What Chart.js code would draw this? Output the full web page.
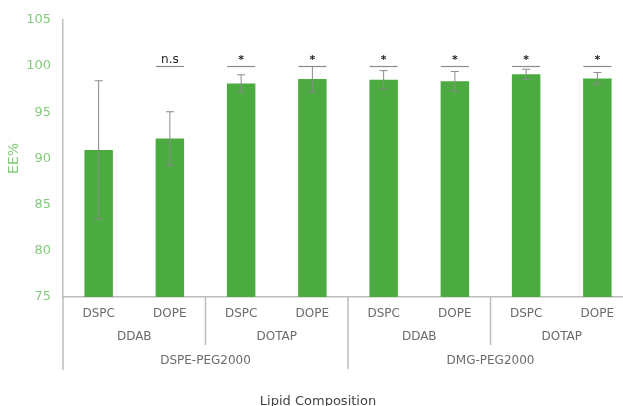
<!DOCTYPE html>
<html>
<head>
<meta charset="utf-8">
<script src="https://cdn.jsdelivr.net/npm/chart.js@4"></script>
<style>
	html, body { margin: 0; padding: 0; background: #fff; overflow: hidden; }
	.wrap { position: relative; width: 640px; height: 406px; }
</style>
</head>
<body>
<div class="wrap"><canvas id="chart"></canvas></div>
<script>
const lipids = ["DSPC", "DOPE", "DSPC", "DOPE", "DSPC", "DOPE", "DSPC", "DOPE"];
const cationic = ["DDAB", "DOTAP", "DDAB", "DOTAP"];
const pegs = ["DSPE-PEG2000", "DMG-PEG2000"];
const ee = [90.9, 92.15, 98.1, 98.6, 98.5, 98.35, 99.1, 98.65];
const sd = [7.5, 2.9, 0.95, 1.35, 1.0, 1.05, 0.55, 0.65];
const marks = ["", "n.s", "*", "*", "*", "*", "*", "*"];
const yTicks = [75, 80, 85, 90, 95, 100, 105];

const green = "#4bab40";
const tickGreen = "#86c97e";
const grey = "#bdbdbd";
const textGrey = "#6b6b6b";
const font = "'DejaVu Sans', sans-serif";

// error bars, significance marks and grouped category labels
const extras = {
	id: "extras",
	afterDatasetsDraw(chart) {
		const { ctx, chartArea: area, scales: { x, y } } = chart;
		const meta = chart.getDatasetMeta(0);
		ctx.save();

		// error bars
		ctx.strokeStyle = "#8a8a8a";
		ctx.lineWidth = 1;
		meta.data.forEach((bar, i) => {
			const top = y.getPixelForValue(ee[i] + sd[i]);
			const bot = y.getPixelForValue(ee[i] - sd[i]);
			ctx.beginPath();
			ctx.moveTo(bar.x, top);
			ctx.lineTo(bar.x, bot);
			ctx.moveTo(bar.x - 4, top);
			ctx.lineTo(bar.x + 4, top);
			ctx.moveTo(bar.x - 4, bot);
			ctx.lineTo(bar.x + 4, bot);
			ctx.stroke();
		});

		// significance
		const lineY = y.getPixelForValue(100) + 0.5;
		meta.data.forEach((bar, i) => {
			if (!marks[i]) return;
			ctx.strokeStyle = "#8a8a8a";
			ctx.lineWidth = 1.2;
			ctx.beginPath();
			ctx.moveTo(bar.x - 14, lineY);
			ctx.lineTo(bar.x + 14, lineY);
			ctx.stroke();
			ctx.fillStyle = "#222";
			ctx.textAlign = "center";
			ctx.textBaseline = "alphabetic";
			if (marks[i] === "*") {
				ctx.font = "bold 11px " + font;
				ctx.fillText("*", bar.x, lineY - 4);
			} else {
				ctx.font = "12px " + font;
				ctx.fillText(marks[i], bar.x, lineY - 4);
			}
		});

		// y axis extension below x axis
		ctx.strokeStyle = grey;
		ctx.lineWidth = 1.5;
		ctx.beginPath();
		ctx.moveTo(area.left, area.bottom);
		ctx.lineTo(area.left, area.bottom + 73);
		ctx.stroke();

		const step = x.getPixelForValue(1) - x.getPixelForValue(0);
		const edge = i => x.getPixelForValue(i) - step / 2;

		// group separators
		[2, 6].forEach(i => {
			ctx.beginPath();
			ctx.moveTo(edge(i), area.bottom);
			ctx.lineTo(edge(i), area.bottom + 48);
			ctx.stroke();
		});
		ctx.beginPath();
		ctx.moveTo(edge(4), area.bottom);
		ctx.lineTo(edge(4), area.bottom + 72);
		ctx.stroke();

		// labels
		ctx.fillStyle = textGrey;
		ctx.font = "12px " + font;
		ctx.textAlign = "center";
		ctx.textBaseline = "middle";
		lipids.forEach((l, i) => ctx.fillText(l, x.getPixelForValue(i), area.bottom + 17));
		cationic.forEach((c, i) => ctx.fillText(c, edge(i * 2) + step, area.bottom + 40));
		pegs.forEach((p, i) => ctx.fillText(p, edge(i * 4) + step * 2, area.bottom + 64));

		ctx.fillStyle = "#444";
		ctx.font = "13px " + font;
		ctx.fillText("Lipid Composition", 318, 402);

		ctx.restore();
	},
};

new Chart(document.getElementById("chart"), {
	type: "bar",
	plugins: [extras],
	data: {
		labels: lipids,
		datasets: [
			{
				data: ee,
				backgroundColor: green,
				barPercentage: 0.4,
				categoryPercentage: 1,
			},
		],
	},
	options: {
		responsive: true,
		maintainAspectRatio: false,
		animation: false,
		layout: { padding: { top: 18, right: 7, bottom: 101, left: 0 } },
		plugins: { legend: { display: false }, tooltip: { enabled: false } },
		scales: {
			x: {
				grid: { display: false },
				ticks: { display: false },
				border: { color: grey, width: 1.5 },
			},
			y: {
				min: 75,
				max: 105,
				afterBuildTicks: scale => {
					scale.ticks = yTicks.map(v => ({ value: v }));
				},
				afterFit: scale => {
					scale.width = 63;
				},
				grid: { display: false, drawTicks: false },
				border: { color: grey, width: 1.5 },
				ticks: {
					color: tickGreen,
					padding: 12,
					font: { family: font, size: 13 },
				},
				title: {
					display: true,
					text: "EE%",
					color: tickGreen,
					padding: { top: 6, bottom: 8 },
					font: { family: font, size: 14 },
				},
			},
		},
	},
});
</script>
</body>
</html>
